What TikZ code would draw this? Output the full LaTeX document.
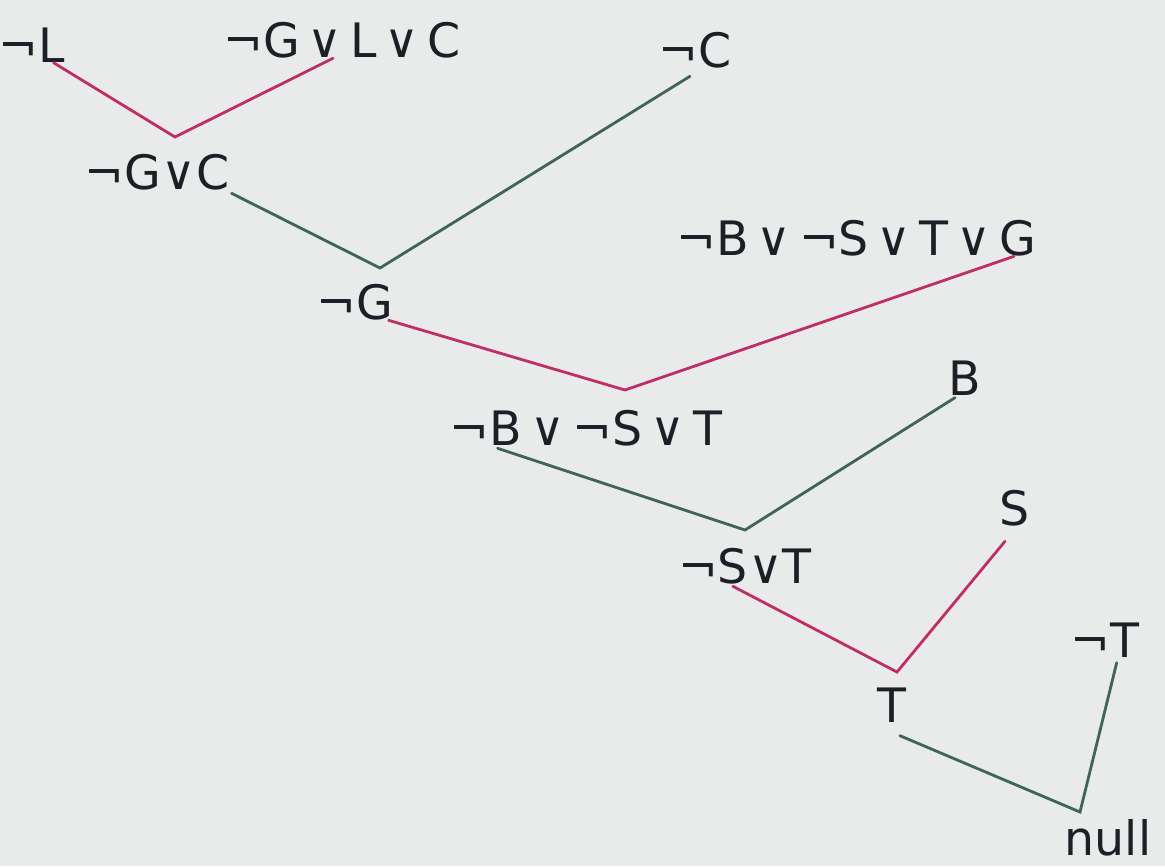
\documentclass[tikz,border=0pt]{standalone}
\usepackage{fontspec}
\setmainfont{DejaVu Sans}
\usetikzlibrary{calc}
\definecolor{paper}{HTML}{E9EBEB}
\definecolor{ink}{HTML}{1E1F26}
\definecolor{respink}{HTML}{BE2E68}
\definecolor{resgreen}{HTML}{3E6652}

\begin{document}
\begin{tikzpicture}[
  x=0.02cm, y=-0.02cm,
  font=\fontsize{27}{30}\selectfont,
  clause/.style={text=ink, inner sep=0pt, anchor=center},
  res/.style={line width=1.6pt, line cap=round, line join=miter},
  pinkres/.style={res, draw=respink},
  greenres/.style={res, draw=resgreen},
]
% ---- page ----
\fill[paper] (0,0) rectangle (1165,866);
\useasboundingbox (0,0) rectangle (1165,866);

% ---- clauses ----
\node[clause] (nL)    at (32,45)    {¬L};
\node[clause] (nGLC)  at (342,40)   {¬G\,∨\,L\,∨\,C};
\node[clause] (nC)    at (695,50)   {¬C};
\node[clause] (nGC)   at (157,172)  {¬G∨C};
\node[clause] (nG)    at (355,302)  {¬G};
\node[clause] (nBSTG) at (856,238)  {¬B\,∨\,¬S\,∨\,T\,∨\,G};
\node[clause] (nBST)  at (586,428)  {¬B\,∨\,¬S\,∨\,T};
\node[clause] (nB)    at (965,378)  {B};
\node[clause] (nST)   at (745,566)  {¬S∨T};
\node[clause] (nS)    at (1015,508) {S};
\node[clause] (nT)    at (892,705)  {T};
\node[clause] (nnT)   at (1105,640) {¬T};
\node[clause] (nnull) at (1108,838) {null};

% ---- resolution steps ----
\coordinate (j1) at (175,137);
\coordinate (j2) at (380,268);
\coordinate (j3) at (625,390);
\coordinate (j4) at (745,530);
\coordinate (j5) at (897,672);
\coordinate (j6) at (1080,812);

\draw[pinkres]  ($(nL.south east)+(-12,0)$) -- (j1) -- ($(nGLC.south)+(-9,0)$);
\draw[greenres] ($(nGC.south east)+(2,3)$) -- (j2) -- ($(nC.south)+(-5,8)$);
\draw[pinkres]  ($(nG.south east)+(-5,0)$) -- (j3) -- ($(nBSTG.south east)+(-22,0)$);
\draw[greenres] ($(nBST.south west)+(48,2)$) -- (j4) -- ($(nB.south)+(-10,2)$);
\draw[pinkres]  ($(nST.south west)+(55,2)$) -- (j5) -- ($(nS.south)+(-10,15)$);
\draw[greenres] ($(nT.south east)+(-7,13)$) -- (j6) -- ($(nnT.south east)+(-23,5)$);
\end{tikzpicture}
\end{document}
